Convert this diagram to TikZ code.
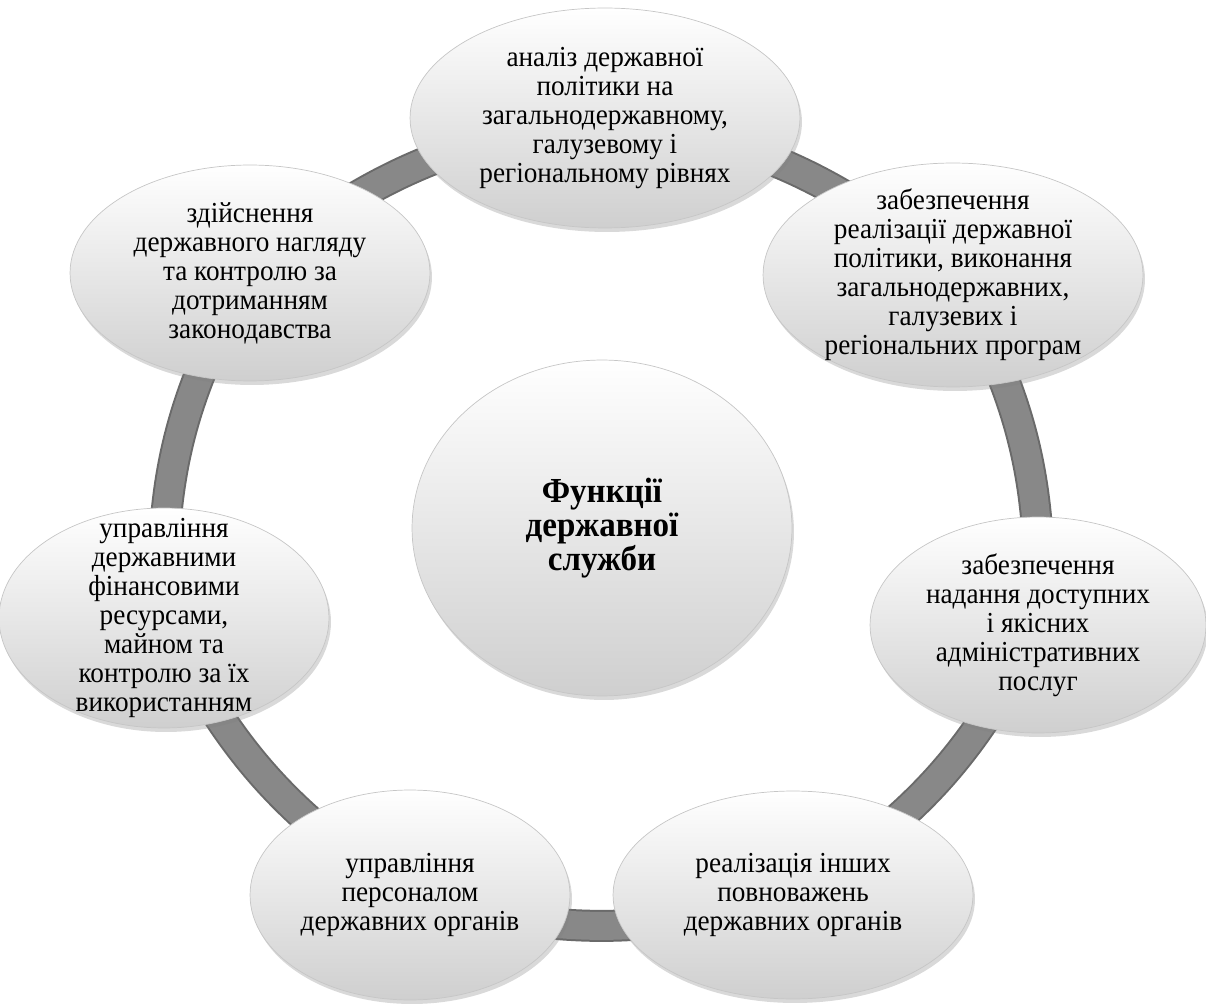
\documentclass[tikz,border=0pt]{standalone}
\usepackage{fontspec}
\setmainfont{Liberation Serif}[FakeStretch=0.94]
\usetikzlibrary{shapes.geometric,shadows,backgrounds}
\definecolor{ringdark}{HTML}{6A6A6A}
\definecolor{ringmid}{HTML}{888888}
\definecolor{ballgray}{HTML}{CFCFCF}
\tikzset{
  func/.style={ellipse, draw=gray!45, line width=0.4pt, top color=white, middle color=gray!5, bottom color=ballgray,
    inner sep=0pt, align=center, font=\fontsize{16.5}{16.5}\selectfont,
    drop shadow={shadow xshift=0.04cm, shadow yshift=-0.08cm, opacity=0.3}},
  ring/.style={draw=ringdark, line width=0.04cm, double=ringmid, double distance=0.56cm}
}

\begin{document}
\begin{tikzpicture}[x=0.02cm, y=0.02cm]
\useasboundingbox (0,0) rectangle (1206,1005);
% centre
\node[func, minimum width=7.6cm, minimum height=6.72cm, font=\fontsize{20}{19.5}\selectfont\bfseries] (funkcii) at (602,477) {Функції\\державної\\служби};
% functions round the ring
\node[func, minimum width=7.8cm, minimum height=4.4cm] (analiz) at (605,887) {аналіз державної\\політики на\\загальнодержавному,\\галузевому і\\регіональному рівнях};
\node[func, minimum width=7.6cm, minimum height=4.48cm, inner ysep=-0.2cm] (realiz) at (953,730) {забезпечення\\реалізації державної\\політики, виконання\\загальнодержавних,\\галузевих і\\регіональних програм};
\node[func, minimum width=6.72cm, minimum height=4.32cm] (posluhy) at (1038,380) {забезпечення\\надання доступних\\і якісних\\адміністративних\\послуг};
\node[func, minimum width=7.2cm, minimum height=4.16cm] (inshi) at (793,110) {реалізація інших\\повноважень\\державних органів};
\node[func, minimum width=6.4cm, minimum height=4.2cm] (personal) at (410,110) {управління\\персоналом\\державних органів};
\node[func, minimum width=6.6cm, minimum height=4.4cm, inner ysep=-0.5cm] (finansy) at (164,387) {управління\\державними\\фінансовими\\ресурсами,\\майном та\\контролю за їх\\використанням};
\node[func, minimum width=7.2cm, minimum height=4.32cm] (nahliad) at (250,732) {здійснення\\державного нагляду\\та контролю за\\дотриманням\\законодавства};
% ring
\begin{scope}[on background layer]
\draw[ring] (analiz.center) to[bend left=16] (realiz.center);
\draw[ring] (realiz.center) to[bend left=16] (posluhy.center);
\draw[ring] (posluhy.center) to[bend left=16] (inshi.center);
\draw[ring] (inshi.center) to[bend left=16] (personal.center);
\draw[ring] (personal.center) to[bend left=16] (finansy.center);
\draw[ring] (finansy.center) to[bend left=16] (nahliad.center);
\draw[ring] (nahliad.center) to[bend left=16] (analiz.center);
\end{scope}
\end{tikzpicture}
\end{document}
